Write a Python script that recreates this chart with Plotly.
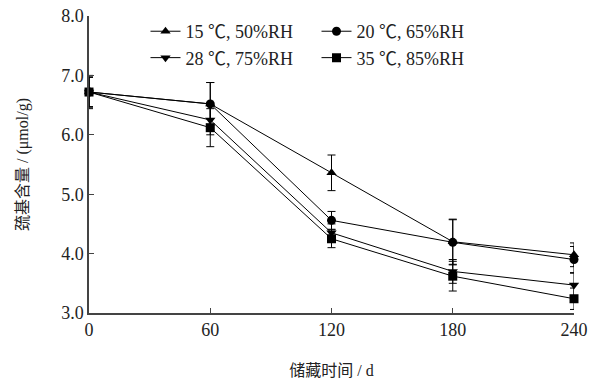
import plotly.graph_objects as go

days = [0, 60, 120, 180, 240]
names = ["15 ℃, 50%RH", "20 ℃, 65%RH", "28 ℃, 75%RH", "35 ℃, 85%RH"]
v15 = [6.72, 6.52, 5.36, 4.20, 3.98]
v20 = [6.72, 6.52, 4.56, 4.19, 3.90]
v28 = [6.72, 6.25, 4.35, 3.70, 3.47]
v35 = [6.72, 6.12, 4.25, 3.62, 3.24]
e15 = [0.28, 0.36, 0.30, 0.38, 0.20]
e20 = [0.25, 0.36, 0.15, 0.38, 0.22]
e28 = [0.25, 0.25, 0.15, 0.20, 0.20]
e35 = [0.25, 0.32, 0.15, 0.25, 0.18]
symbols = ["triangle-up", "circle", "triangle-down", "square"]

fig = go.Figure()
for name, vals, errs, sym in zip(names, [v15, v20, v28, v35], [e15, e20, e28, e35], symbols):
    fig.add_trace(go.Scatter(
        x=days, y=vals, name=name, mode="lines+markers",
        line=dict(color="black", width=1),
        marker=dict(symbol=sym, size=9, color="black"),
        error_y=dict(type="data", array=errs, color="black", thickness=1, width=4),
        cliponaxis=False,
    ))

font_family = "Liberation Serif, Noto Sans CJK SC, serif"
fig.update_layout(
    width=589, height=379,
    margin=dict(l=89, r=15, t=16, b=66),
    paper_bgcolor="white", plot_bgcolor="white",
    font=dict(family=font_family, size=18, color="#222"),
    showlegend=True,
    legend=dict(orientation="h", x=0.1165, y=1.01, xanchor="left", yanchor="top",
                entrywidth=126, entrywidthmode="pixels",
                font=dict(size=18), bgcolor="rgba(0,0,0,0)", tracegroupgap=0,
                itemwidth=30),
    xaxis=dict(range=[0, 240], tickvals=days, ticks="inside", ticklen=5,
               showline=True, linecolor="#444", linewidth=1.5, showgrid=False,
               zeroline=False, automargin=False,
               title=dict(text="储藏时间 / d", font=dict(size=16), standoff=25)),
    yaxis=dict(range=[3, 8], tickvals=[3, 4, 5, 6, 7, 8], tickformat=".1f",
               ticks="inside", ticklen=5,
               showline=True, linecolor="#444", linewidth=1.5, showgrid=False,
               zeroline=False, automargin=False,
               title=dict(text="巯基含量 / (μmol/g)", font=dict(size=16), standoff=29)),
)
fig.write_html("out.html", config={"displayModeBar": False},
               post_script="document.body.style.margin='0';")
